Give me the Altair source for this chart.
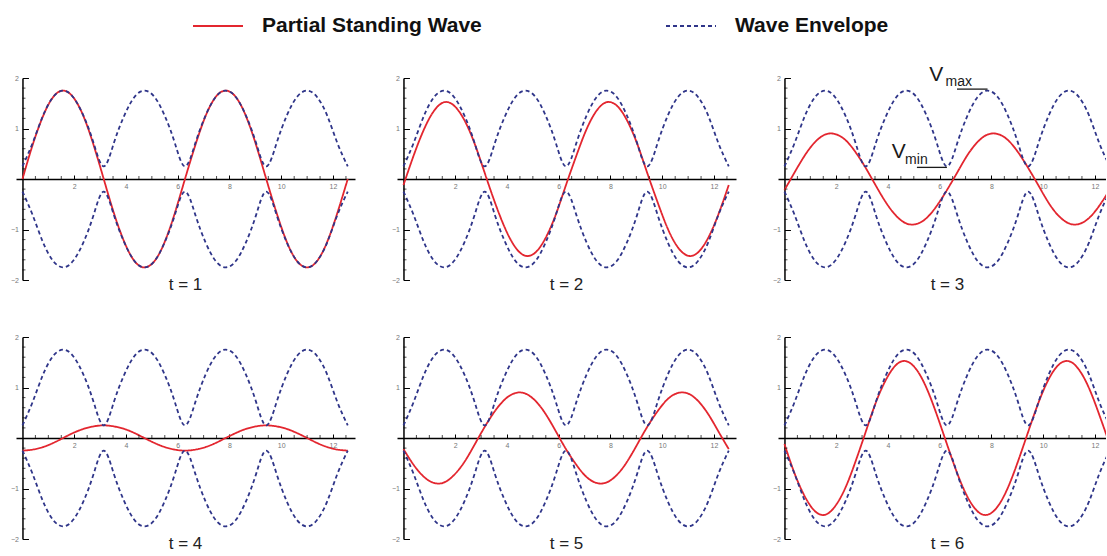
import altair as alt
import pandas as pd

# Sample positions along the line (radians), every pi/8 from 0 to 4*pi
X = [0.00, 0.39, 0.79, 1.18, 1.57, 1.96, 2.36, 2.75, 3.14, 3.53, 3.93, 4.32,
     4.71, 5.11, 5.50, 5.89, 6.28, 6.68, 7.07, 7.46, 7.85, 8.25, 8.64, 9.03,
     9.42, 9.82, 10.21, 10.60, 11.00, 11.39, 11.78, 12.17, 12.57]

# Upper envelope |V(x)| (the lower one is its mirror image)
ENVELOPE = [0.25, 0.71, 1.25, 1.62, 1.75, 1.62, 1.25, 0.71,
            0.25, 0.71, 1.25, 1.62, 1.75, 1.62, 1.25, 0.71,
            0.25, 0.71, 1.25, 1.62, 1.75, 1.62, 1.25, 0.71,
            0.25, 0.71, 1.25, 1.62, 1.75, 1.62, 1.25, 0.71, 0.25]

# Instantaneous voltage of the partial standing wave at t = 1 ... 6
WAVE_T1 = [0.00, 0.67, 1.24, 1.62, 1.75, 1.62, 1.24, 0.67,
           0.00, -0.67, -1.24, -1.62, -1.75, -1.62, -1.24, -0.67,
           0.00, 0.67, 1.24, 1.62, 1.75, 1.62, 1.24, 0.67,
           0.00, -0.67, -1.24, -1.62, -1.75, -1.62, -1.24, -0.67, 0.00]
WAVE_T2 = [-0.12, 0.46, 0.98, 1.35, 1.52, 1.45, 1.16, 0.70,
           0.12, -0.46, -0.98, -1.35, -1.52, -1.45, -1.16, -0.70,
           -0.12, 0.46, 0.98, 1.35, 1.52, 1.45, 1.16, 0.70,
           0.12, -0.46, -0.98, -1.35, -1.52, -1.45, -1.16, -0.70, -0.12]
WAVE_T3 = [-0.22, 0.13, 0.47, 0.73, 0.88, 0.89, 0.77, 0.53,
           0.22, -0.13, -0.47, -0.73, -0.88, -0.89, -0.77, -0.53,
           -0.22, 0.13, 0.47, 0.73, 0.88, 0.89, 0.77, 0.53,
           0.22, -0.13, -0.47, -0.73, -0.88, -0.89, -0.77, -0.53, -0.22]
WAVE_T4 = [-0.25, -0.23, -0.18, -0.10, 0.00, 0.10, 0.18, 0.23,
           0.25, 0.23, 0.18, 0.10, 0.00, -0.10, -0.18, -0.23,
           -0.25, -0.23, -0.18, -0.10, 0.00, 0.10, 0.18, 0.23,
           0.25, 0.23, 0.18, 0.10, 0.00, -0.10, -0.18, -0.23, -0.25]
WAVE_T5 = [-0.22, -0.53, -0.77, -0.89, -0.88, -0.73, -0.47, -0.13,
           0.22, 0.53, 0.77, 0.89, 0.88, 0.73, 0.47, 0.13,
           -0.22, -0.53, -0.77, -0.89, -0.88, -0.73, -0.47, -0.13,
           0.22, 0.53, 0.77, 0.89, 0.88, 0.73, 0.47, 0.13, -0.22]
WAVE_T6 = [-0.12, -0.70, -1.16, -1.45, -1.52, -1.35, -0.98, -0.46,
           0.12, 0.70, 1.16, 1.45, 1.52, 1.35, 0.98, 0.46,
           -0.12, -0.70, -1.16, -1.45, -1.52, -1.35, -0.98, -0.46,
           0.12, 0.70, 1.16, 1.45, 1.52, 1.35, 0.98, 0.46, -0.12]
WAVES = [WAVE_T1, WAVE_T2, WAVE_T3, WAVE_T4, WAVE_T5, WAVE_T6]
PANEL_LABELS = ["t = 1", "t = 2", "t = 3", "t = 4", "t = 5", "t = 6"]

SERIES = ["Partial Standing Wave", "Wave Envelope"]
COLORS = ["#e3262f", "#2f3589"]
DASHES = [[1, 0], [4, 3]]

# Axis ticks
X_MAJOR = [2, 4, 6, 8, 10, 12]
X_MINOR = [0.5, 1, 1.5, 2.5, 3, 3.5, 4.5, 5, 5.5, 6.5, 7, 7.5,
           8.5, 9, 9.5, 10.5, 11, 11.5, 12.5]
Y_MAJOR = [-2, -1, 1, 2]
Y_MINOR = [-1.8, -1.6, -1.4, -1.2, -0.8, -0.6, -0.4, -0.2,
           0.2, 0.4, 0.6, 0.8, 1.2, 1.4, 1.6, 1.8]

# Vmax / Vmin call-outs (t = 3 panel)
ANNOT_TEXT = ["V", "max", "V", "min"]
ANNOT_X = [5.87, 6.74, 4.42, 5.10]
ANNOT_Y = [2.06, 1.93, 0.54, 0.37]
ANNOT_SIZE = [21, 14, 21, 14]
UNDER_X = [6.67, 5.12]
UNDER_X2 = [7.85, 6.28]
UNDER_Y = [1.78, 0.23]

LABEL_X = 6.3
FONT = "Liberation Sans"
H = 202
W_FULL = 339
W_EDGE = 328
X_MIN = -0.25
X_MAX_FULL = 12.85
X_MAX_EDGE = 12.43


def panel(i):
    edge = (i % 3 == 2)
    w = W_EDGE if edge else W_FULL
    x_max = X_MAX_EDGE if edge else X_MAX_FULL
    x0_px = (0 - X_MIN) / (x_max - X_MIN) * w

    x_enc = alt.X(
        "x:Q",
        scale=alt.Scale(domain=[X_MIN, x_max], nice=False, zero=False),
        axis=alt.Axis(orient="top", offset=-H / 2, values=X_MAJOR, grid=False,
                      title=None, tickSize=4, tickColor="black", tickWidth=1,
                      domainColor="black", domainWidth=1.5,
                      labelFontSize=7, labelColor="#777", labelFont=FONT,
                      labelBaseline="top", labelPadding=-7),
    )
    y_enc = alt.Y(
        "y:Q",
        scale=alt.Scale(domain=[-2, 2], nice=False),
        axis=alt.Axis(orient="right", offset=-(w - x0_px), values=Y_MAJOR,
                      grid=False, title=None, tickSize=6, tickColor="black",
                      tickWidth=1, domainColor="black", domainWidth=1.5,
                      labelFontSize=7, labelColor="#777", labelFont=FONT,
                      labelAlign="right", labelPadding=-10),
    )
    color_enc = alt.Color("series:N", scale=alt.Scale(domain=SERIES, range=COLORS),
                          legend=alt.Legend(title=None))
    dash_enc = alt.StrokeDash("series:N", scale=alt.Scale(domain=SERIES, range=DASHES),
                              legend=alt.Legend(title=None))

    wave = pd.DataFrame({"x": X, "y": WAVES[i], "series": SERIES[0], "branch": "wave"})
    env = pd.concat([
        pd.DataFrame({"x": X, "y": ENVELOPE, "series": SERIES[1], "branch": "upper"}),
        pd.DataFrame({"x": X, "y": [-v for v in ENVELOPE], "series": SERIES[1], "branch": "lower"}),
    ])

    wave_line = alt.Chart(wave).mark_line(interpolate="natural", strokeWidth=1.8, clip=True).encode(
        x=x_enc, y=y_enc, color=color_enc, strokeDash=dash_enc, detail="branch:N")
    env_line = alt.Chart(env).mark_line(interpolate="natural", strokeWidth=1.8, clip=True).encode(
        x=x_enc, y=y_enc, color=color_enc, strokeDash=dash_enc, detail="branch:N")

    xminor = alt.Chart(pd.DataFrame({"x": X_MINOR, "y": 0})).mark_tick(
        orient="vertical", size=3, thickness=1, color="black", yOffset=-1.5, clip=True
    ).encode(x=x_enc, y=y_enc)
    yminor = alt.Chart(pd.DataFrame({"x": 0, "y": Y_MINOR})).mark_tick(
        orient="horizontal", size=3, thickness=1, color="black", xOffset=1.5
    ).encode(x=x_enc, y=y_enc)

    label = alt.Chart(pd.DataFrame({"x": [LABEL_X], "y": [-2], "t": [PANEL_LABELS[i]]})).mark_text(
        font=FONT, fontSize=17, color="#222", baseline="middle", dy=5
    ).encode(x=x_enc, y=y_enc, text="t:N")

    layers = [wave_line, env_line, xminor, yminor, label]

    if i == 2:
        ann = alt.Chart(pd.DataFrame({"x": ANNOT_X, "y": ANNOT_Y, "s": ANNOT_TEXT,
                                      "size": ANNOT_SIZE})).mark_text(
            font=FONT, color="#1a1a1a", baseline="middle", align="center"
        ).encode(x=x_enc, y=y_enc, text="s:N", size=alt.Size("size:Q", scale=None))
        under = alt.Chart(pd.DataFrame({"x": UNDER_X, "x2": UNDER_X2, "y": UNDER_Y})).mark_rule(
            color="#1a1a1a", strokeWidth=1.3
        ).encode(x=x_enc, x2="x2:Q", y=y_enc)
        layers += [ann, under]

    return alt.layer(*layers).properties(width=w, height=H)


chart = alt.concat(
    *[panel(i) for i in range(6)],
    columns=3, spacing={"row": 57, "column": 42}, bounds="flush",
).resolve_scale(
    color="shared", strokeDash="shared"
).properties(
    padding={"left": 10, "top": 0, "right": 0, "bottom": 0},
    background="white",
).configure_view(
    strokeWidth=0
).configure_legend(
    orient="none", legendX=176, legendY=-78, direction="horizontal",
    symbolType="stroke", symbolSize=2500, symbolStrokeWidth=2,
    labelFont=FONT, labelFontSize=21, labelFontWeight="bold", labelColor="#111",
    labelOffset=18, columnPadding=180, labelLimit=400,
)

chart.save("out.html", embed_options={"renderer": "svg", "actions": False})
